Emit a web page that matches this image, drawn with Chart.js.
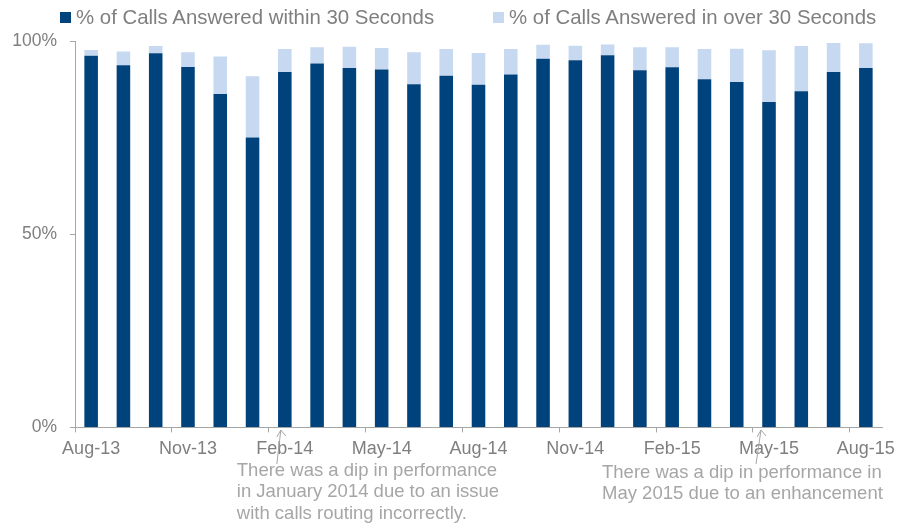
<!DOCTYPE html>
<html>
<head>
<meta charset="utf-8">
<script src="https://cdn.jsdelivr.net/npm/chart.js@4/dist/chart.umd.min.js"></script>
<style>
  body { margin: 0; background: #fff; }
  #wrap { position: relative; width: 899px; height: 524px; }
  .legend-item { position: absolute; top: 4px; font: 20.4px "Liberation Sans", Arial, sans-serif; color: #7f7f7f; white-space: nowrap; line-height: 26px; }
  .legend-item i { display: inline-block; width: 11px; height: 11px; margin-right: 5px; vertical-align: 1px; }
</style>
</head>
<body>
<div id="wrap">
  <canvas id="chart" width="899" height="524"></canvas>
  <div id="legend"></div>
</div>
<script>
const months = [
  "Aug-13", "Sep-13", "Oct-13", "Nov-13", "Dec-13", "Jan-14", "Feb-14", "Mar-14", "Apr-14",
  "May-14", "Jun-14", "Jul-14", "Aug-14", "Sep-14", "Oct-14", "Nov-14", "Dec-14", "Jan-15",
  "Feb-15", "Mar-15", "Apr-15", "May-15", "Jun-15", "Jul-15", "Aug-15"
];
// % answered within 30 seconds
const within30 = [
  96.2, 93.7, 96.8, 93.3, 86.3, 75.0, 92.0, 94.2, 93.0,
  92.6, 88.8, 91.0, 88.7, 91.3, 95.4, 95.0, 96.3, 92.4,
  93.2, 90.1, 89.4, 84.2, 87.0, 92.0, 93.0
];
// % answered after more than 30 seconds
const over30 = [
  1.5, 3.6, 1.9, 3.8, 9.7, 15.9, 5.9, 4.2, 5.5,
  5.6, 8.3, 6.9, 8.2, 6.6, 3.6, 3.8, 2.8, 6.0,
  5.2, 7.8, 8.6, 13.4, 11.7, 7.5, 6.4
];
const yTicks = [0, 50, 100];
const seriesNames = ["% of Calls Answered within 30 Seconds", "% of Calls Answered in over 30 Seconds"];
const noteMonths = ["Feb-14", "May-15"];
const noteText = [
  ["There was a dip in performance", "in January 2014 due to an issue", "with calls routing incorrectly."],
  ["There was a dip in performance in", "May 2015 due to an enhancement"]
];

const DARK = "#00437c";
const LIGHT = "#c6d9f1";
const AXIS = "#a6a6a6";
const FONT = "'Liberation Sans', Arial, sans-serif";

// legend as plain html, two items on one row
const legendPos = [60, 493];
const legendEl = document.getElementById("legend");
[DARK, LIGHT].forEach((c, i) => {
  const d = document.createElement("div");
  d.className = "legend-item";
  d.style.left = legendPos[i] + "px";
  d.innerHTML = '<i style="background:' + c + '"></i>' + seriesNames[i];
  legendEl.appendChild(d);
});

// arrows + notes under the x axis
const noteLayout = [
  { tipDx: -4, baseDx: -8, textDx: -48, textY: 471 },
  { tipDx: -8, baseDx: -13, textDx: -167, textY: 473 }
];
const notesPlugin = {
  id: "notes",
  afterDraw(chart) {
    const ctx = chart.ctx;
    const x = chart.scales.x;
    ctx.save();
    ctx.strokeStyle = AXIS;
    ctx.fillStyle = AXIS;
    ctx.lineWidth = 1;
    ctx.font = "18.5px " + FONT;
    ctx.textBaseline = "middle";
    noteMonths.forEach((m, i) => {
      const cx = x.getPixelForValue(months.indexOf(m));
      const lay = noteLayout[i];
      const tipX = cx + lay.tipDx, tipY = 430;
      const baseX = cx + lay.baseDx, baseY = 464;
      ctx.beginPath();
      ctx.moveTo(baseX, baseY);
      ctx.lineTo(tipX, tipY);
      ctx.moveTo(tipX - 4, tipY + 7);
      ctx.lineTo(tipX, tipY);
      ctx.lineTo(tipX + 5, tipY + 6);
      ctx.stroke();
      noteText[i].forEach((line, j) => {
        ctx.fillText(line, cx + lay.textDx, lay.textY + j * 21.3);
      });
    });
    ctx.restore();
  }
};

new Chart(document.getElementById("chart"), {
  type: "bar",
  data: {
    labels: months,
    datasets: [
      { label: seriesNames[0], data: within30, backgroundColor: DARK },
      { label: seriesNames[1], data: over30, backgroundColor: LIGHT }
    ]
  },
  options: {
    responsive: false,
    animation: false,
    layout: { padding: { top: 41, left: 13, right: 17, bottom: 58 } },
    categoryPercentage: 0.42,
    barPercentage: 1,
    plugins: { legend: { display: false }, tooltip: { enabled: false } },
    scales: {
      x: {
        stacked: true,
        offset: true,
        // last label may hang into the right margin
        afterFit: s => { s.paddingRight = 0; s.paddingLeft = 0; },
        grid: {
          offset: true,
          drawOnChartArea: false,
          tickLength: 5,
          tickColor: c => (c.index % 3 === 0 ? AXIS : "rgba(0,0,0,0)")
        },
        border: { color: AXIS },
        ticks: {
          autoSkip: false,
          maxRotation: 0,
          padding: 6,
          color: "#7f7f7f",
          font: { family: FONT, size: 18 },
          callback: (v, i) => (i % 3 === 0 ? months[i] : "")
        }
      },
      y: {
        stacked: true,
        min: 0,
        max: 100,
        afterBuildTicks: s => { s.ticks = yTicks.map(v => ({ value: v })); },
        afterFit: s => { s.width = 62; },
        grid: { drawOnChartArea: false, tickLength: 5, tickColor: AXIS },
        border: { color: AXIS },
        ticks: {
          padding: 13,
          color: "#7f7f7f",
          font: { family: FONT, size: 17.5 },
          callback: v => v + "%"
        }
      }
    }
  },
  plugins: [notesPlugin]
});
</script>
</body>
</html>
